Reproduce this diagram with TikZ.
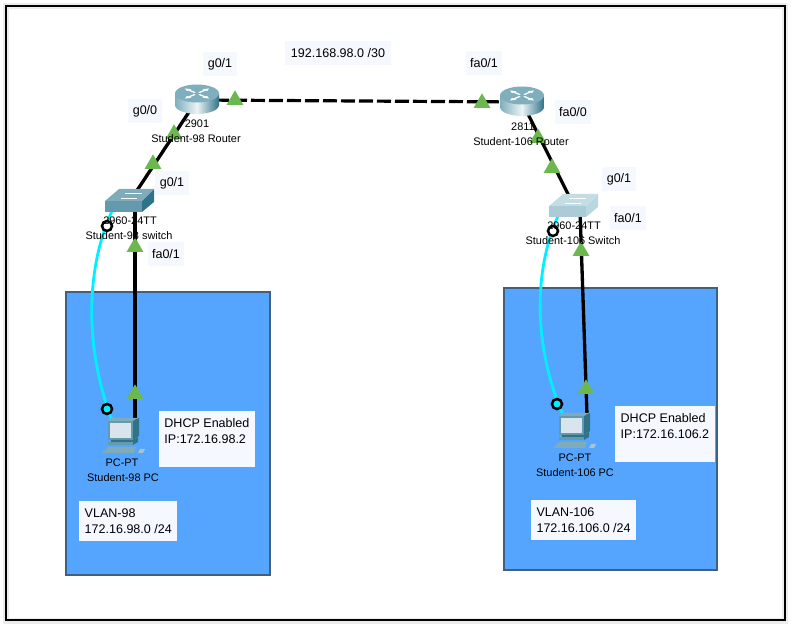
\documentclass[tikz,border=0pt]{standalone}
\usepackage{fontspec}
\setmainfont{Liberation Sans}
\usepackage{tikz}
\usetikzlibrary{shapes.geometric}
\definecolor{lanblue}{HTML}{55A5FF}
\definecolor{lanedge}{HTML}{3F6080}
\definecolor{tagbg}{HTML}{F6F8FF}
\definecolor{portgreen}{HTML}{6CB84E}
\definecolor{fibrecyan}{HTML}{00F0FF}
\definecolor{ciscodark}{HTML}{2F7388}
\definecolor{ciscotop}{HTML}{7FAEBD}
\definecolor{swfront}{HTML}{6499AE}
\definecolor{swside}{HTML}{2F7388}
\definecolor{swtop}{HTML}{7FABBB}
\definecolor{swfrontl}{HTML}{ABCBD7}
\definecolor{swsidel}{HTML}{BAD6E0}
\definecolor{swtopl}{HTML}{C4DCE4}
\definecolor{pcscreen}{HTML}{D8E5EC}

\tikzset{
  pics/routerbox/.style={code={
    \path[left color=ciscotop, right color=ciscodark, middle color=white!85!ciscotop]
      (-22,-6.5) -- (-22,5) arc[x radius=22, y radius=9, start angle=180, end angle=0]
      -- (22,-6.5) -- cycle;
    \fill[ciscotop] (0,-6.5) ellipse[x radius=22, y radius=9];
    \foreach \r in {0,90,180,270} {
      \fill[white, shift={(0,-6.5)}, yscale=0.42, rotate=\r+45]
        (3,-1.2) -- (11,-1.2) -- (11,-3.2) -- (17,0) -- (11,3.2) -- (11,1.2) -- (3,1.2) -- cycle;
    }
  }},
  pics/switchbox/.style args={#1/#2/#3}{code={
    \fill[#1] (-25,0) -- (-25,11) -- (12,11) -- (12,0) -- cycle;
    \fill[#2] (12,0) -- (12,11) -- (24,1) -- (24,-12) -- cycle;
    \fill[#3] (-25,0) -- (-11,-12) -- (24,-12) -- (12,0) -- cycle;
    \draw[white, line width=0.5pt] (-9,-3) -- (7,-3);
    \draw[white, line width=0.5pt] (-5,-8) -- (12,-8);
  }},
  pics/pcbox/.style={code={
    \fill[swtop] (-14,3) -- (-10,0) -- (17,0) -- (11,3) -- cycle;
    \fill[ciscodark] (11,3) -- (17,0) -- (17,18) -- (11,22) -- cycle;
    \fill[swfront] (-14,3) rectangle (11,22);
    \fill[pcscreen] (-12,5) rectangle (9,20);
    \fill[ciscodark] (-11,22) -- (11,22) -- (16,19) -- (16,24) -- (11,27) -- (-11,27) -- cycle;
    \fill[swfront] (-14,24) rectangle (11,27);
    \fill[swtop] (-20,35) -- (-14,29) -- (14,29) -- (12,35) -- cycle;
    \fill[swtop!70!white] (16,35) -- (18,31) -- (23,31) -- (21,35) -- cycle;
  }},
  link/.style={line width=2.5pt, black},
  wan/.style={line width=2.4pt, black, dash pattern=on 10.5pt off 3pt},
  fibre/.style={line width=2.1pt, fibrecyan},
  lan/.style={draw=lanedge, line width=0.9pt, fill=lanblue},
  port/.style={regular polygon, regular polygon sides=3, fill=portgreen,
    inner sep=0pt, minimum size=14.5pt},
  ring/.style={circle, draw=black, line width=1.9pt, inner sep=0pt, minimum size=7.5pt},
  tag/.style={fill=tagbg, font=\fontsize{9.4pt}{11.6pt}\selectfont, inner sep=0pt,
    minimum height=18pt, minimum width=25pt},
  note/.style={fill=tagbg, font=\fontsize{9.4pt}{12.5pt}\selectfont, inner xsep=2.5pt, inner ysep=2pt,
    align=left, anchor=north west},
  devlabel/.style={font=\fontsize{8.2pt}{10pt}\selectfont, inner sep=0pt}
}

\begin{document}
\begin{tikzpicture}[x=0.75pt, y=-0.75pt]
  \useasboundingbox (0,0) rectangle (794,631);
  \draw[gray!15, line width=4.5pt] (6,6) rectangle (785,621);
  \draw[black, line width=2.2pt] (6,6) rectangle (785,620);

  % subnets
  \draw[lan] (66,292) rectangle (270,575);
  \draw[lan] (504,288) rectangle (717,570);

  % where the devices sit
  \coordinate (r98) at (197,100);
  \coordinate (r106) at (522,102);
  \coordinate (sw98) at (130,201);
  \coordinate (sw106) at (574,206);
  \coordinate (pc98) at (122,418);
  \coordinate (pc106) at (573,413);
  \coordinate (sw98low) at (135,205);
  \coordinate (sw106low) at (580,210);
  \coordinate (pc98top) at (135,420);
  \coordinate (pc106top) at (587,415);
  \coordinate (sw98left) at (112,211);
  \coordinate (sw106left) at (558,216);
  \coordinate (pc98left) at (112,420);
  \coordinate (pc106left) at (563,415);

  % links
  \draw[wan] (r98) -- (r106);
  \draw[link] (r98) -- (sw98);
  \draw[link] (r106) -- (sw106);
  \draw[link] (sw98low) -- (pc98top);
  \draw[link] (sw106low) -- (pc106top);
  \draw[fibre] (sw98left) .. controls (85,270) and (85,350) .. (pc98left);
  \draw[fibre] (sw106left) .. controls (532,275) and (535,350) .. (pc106left);

  % devices
  \pic at (r98) {routerbox};
  \pic at (r106) {routerbox};
  \pic at (sw98) {switchbox=swfront/swside/swtop};
  \pic at (sw106) {switchbox=swfrontl/swsidel/swtopl};
  \pic at (pc98) {pcbox};
  \pic at (pc106) {pcbox};

  % port lights
  \foreach \x/\y/\n in {235/100/pa,174/134/pb,153/164/pc,135/247/pd,135/394/pe,
                        482/103/pf,538/138/pg,552/168/ph,581/251/pi,586/389/pj} {
    \node[port] (\n) at (\x,\y){};
  }
  \node[ring, fill=white] (ra) at (107,226){};
  \node[ring, fill=fibrecyan] (rb) at (107,409){};
  \node[ring, fill=white] (rc) at (553,231){};
  \node[ring, fill=fibrecyan] (rd) at (557,404){};

  % device names
  \foreach \x/\y/\t/\n in {
      197/124/2901/la, 196/139/Student-98 Router/lb,
      130/221/2960-24TT/lc, 129/236/Student-98 switch/ld,
      122/463/PC-PT/le, 123/478/Student-98 PC/lf,
      523/127/2811/lg, 521/142/Student-106 Router/lh,
      574/226/2960-24TT/li, 573/241/Student-106 Switch/lj,
      575/458/PC-PT/lk, 575/473/Student-106 PC/ll} {
    \node[devlabel] (\n) at (\x,\y){\t};
  }

  % interface tags
  \foreach \x/\y/\t/\n in {
      220/64/g0\slash 1/ta, 145/111/g0\slash 0/tb, 172/183/g0\slash 1/tc} {
    \node[tag] (\n) at (\x,\y){\t};
  }
  \node[tag] (tg) at (619,179){g0\slash 1};
  \foreach \x/\y/\t/\n in {
      166/254/fa0\slash 1/td, 484/63/fa0\slash 1/te,
      573/112/fa0\slash 0/tf, 628/218/fa0\slash 1/th} {
    \node[tag, minimum width=27pt] (\n) at (\x,\y){\t};
  }
  \node[tag, minimum width=80pt] (wanlabel) at (338,53){192.168.98.0 /30};

  % notes
  \node[note, minimum width=71.5pt, minimum height=42pt] (dhcp98) at (159,411){DHCP Enabled\\IP:172.16.98.2\\\mbox{}};
  \node[note, minimum width=74.5pt, minimum height=42pt] (dhcp106) at (615,406){DHCP Enabled\\IP:172.16.106.2\\\mbox{}};
  \node[note, minimum width=73.5pt, minimum height=30pt] (vlan98) at (79,501){VLAN-98\\172.16.98.0 /24};
  \node[note, minimum width=78.5pt, minimum height=30pt] (vlan106) at (531,500){VLAN-106\\172.16.106.0 /24};
\end{tikzpicture}
\end{document}
